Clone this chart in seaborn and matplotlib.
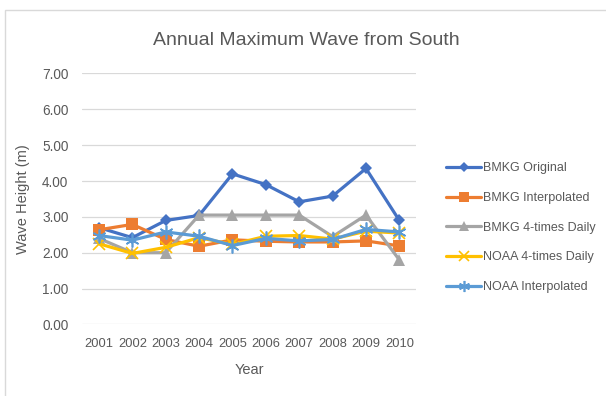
import matplotlib
matplotlib.use("Agg")
import matplotlib.pyplot as plt
import matplotlib.patches as mpatches
import seaborn as sns
import pandas as pd

years = [2001, 2002, 2003, 2004, 2005, 2006, 2007, 2008, 2009, 2010]
bmkg_original = [2.70, 2.42, 2.90, 3.04, 4.20, 3.90, 3.42, 3.58, 4.35, 2.90]
bmkg_interpolated = [2.64, 2.79, 2.37, 2.18, 2.36, 2.32, 2.30, 2.30, 2.33, 2.19]
bmkg_4times = [2.40, 2.00, 2.00, 3.05, 3.05, 3.05, 3.05, 2.45, 3.05, 1.80]
noaa_4times = [2.25, 1.98, 2.15, 2.42, 2.23, 2.46, 2.48, 2.38, 2.60, 2.55]
noaa_interpolated = [2.48, 2.35, 2.58, 2.46, 2.20, 2.40, 2.33, 2.37, 2.65, 2.58]

series_names = ["BMKG Original", "BMKG Interpolated", "BMKG 4-times Daily",
                "NOAA 4-times Daily", "NOAA Interpolated"]
series_values = [bmkg_original, bmkg_interpolated, bmkg_4times,
                 noaa_4times, noaa_interpolated]
y_ticks = [0, 1, 2, 3, 4, 5, 6, 7]

colors = ["#4472C4", "#ED7D31", "#A5A5A5", "#FFC000", "#5B9BD5"]
markers = ["D", "s", "^", "x", (6, 2, 0)]
msizes = [6.5, 8.5, 8.5, 9, 10]

df = pd.concat(
    [pd.DataFrame({"Year": years, "Wave": vals, "Series": name})
     for name, vals in zip(series_names, series_values)],
    ignore_index=True,
)

sns.set_theme(style="white")
plt.rcParams["font.family"] = ["Liberation Sans", "DejaVu Sans"]
text_color = "#595959"

fig = plt.figure(figsize=(6.06, 3.96), dpi=100)
fig.patch.set_facecolor("white")
ax = fig.add_axes([0.1358, 0.1808, 0.5507, 0.6336])

for name, col, mk, ms in zip(series_names, colors, markers, msizes):
    sub = df[df["Series"] == name]
    sns.lineplot(data=sub, x="Year", y="Wave", ax=ax, color=col, linewidth=2.3,
                 marker=mk, markersize=ms,
                 markeredgewidth=1.2 if mk in ("x", (6, 2, 0)) else 0,
                 markeredgecolor=col, label=name)

ax.set_xlim(2000.5, 2010.5)
ax.set_ylim(0, 7)
ax.set_xticks(years)
ax.set_xticklabels([str(y) for y in years])
ax.set_yticks(y_ticks)
ax.set_yticklabels([f"{v:.2f}" for v in y_ticks])
ax.yaxis.grid(True, color="#D9D9D9", linewidth=0.9)
ax.set_axisbelow(True)
for s in ax.spines.values():
    s.set_visible(False)
ax.tick_params(axis="x", length=0, labelsize=9.3, colors=text_color, pad=10)
ax.tick_params(axis="y", length=0, labelsize=9.8, colors=text_color, pad=10)
ax.set_xlabel("Year", fontsize=10.5, color=text_color, labelpad=9)
ax.set_ylabel("Wave Height (m)", fontsize=10.5, color=text_color, labelpad=9)

fig.text(0.505, 0.898, "Annual Maximum Wave from South", ha="center", va="center",
         fontsize=14, color=text_color)

handles, labels = ax.get_legend_handles_labels()
ax.legend(handles, labels, loc="center left", bbox_to_anchor=(0.728, 0.425),
          bbox_transform=fig.transFigure, frameon=False, fontsize=9,
          labelcolor=text_color, handlelength=2.8, handletextpad=0.15,
          labelspacing=1.42, borderaxespad=0, markerscale=0.8)

# chart frame
fig.add_artist(mpatches.Rectangle((4.5 / 606, -0.1), 1.2, 1.1 - 9.5 / 396,
                                  transform=fig.transFigure, fill=False,
                                  edgecolor="#D9D9D9", linewidth=1.0))

fig.savefig("out.png", dpi=100, facecolor="white")
